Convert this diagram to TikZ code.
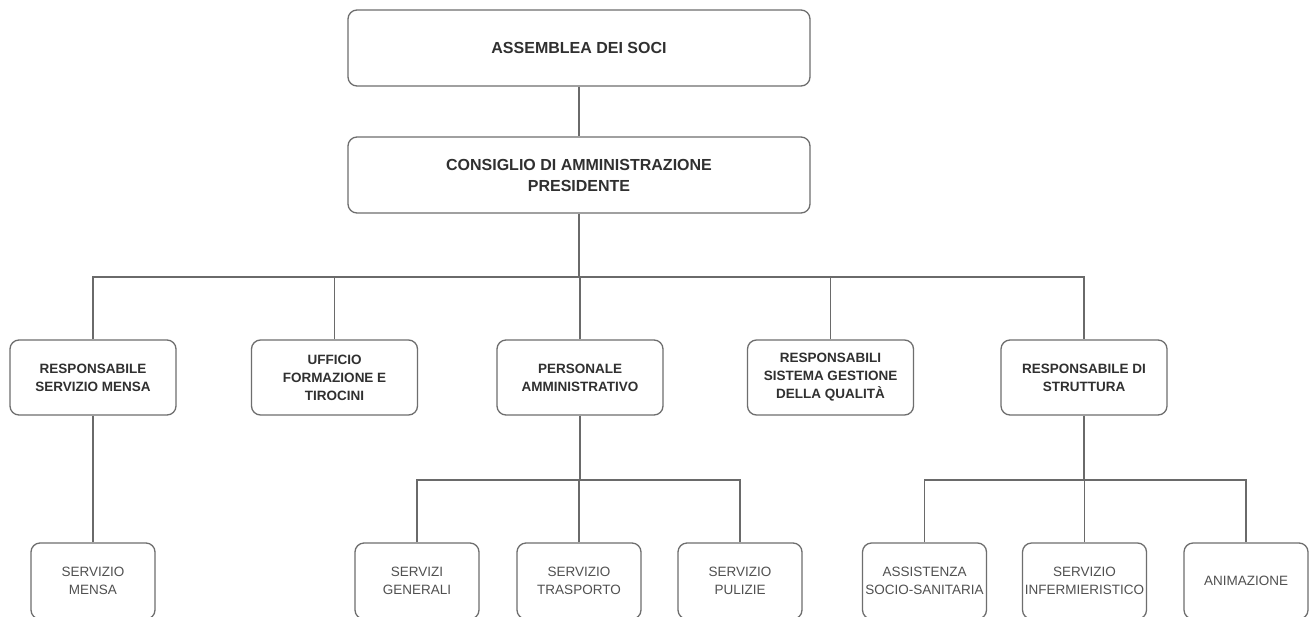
\documentclass[tikz,border=0pt]{standalone}
\usepackage{fontspec}
\setmainfont{Liberation Sans}
\begin{document}
\begin{tikzpicture}[x=1pt,y=-1pt,
  box/.style={draw=boxgray,line width=1.3pt,rounded corners=9pt,fill=white,align=center,inner sep=0pt},
  topbox/.style={box,minimum width=462pt,minimum height=76pt,font=\fontsize{16}{21}\selectfont\bfseries,text=txtdark},
  midbox/.style={box,minimum width=166pt,minimum height=75pt,font=\fontsize{13.5}{18}\selectfont\bfseries,text=txtdark},
  lowbox/.style={box,minimum width=124pt,minimum height=76pt,font=\fontsize{13.5}{18}\selectfont,text=txtlight},
  conn/.style={draw=linegray,line width=1.4pt}]
\definecolor{boxgray}{HTML}{6E6E6E}
\definecolor{linegray}{HTML}{6A6A6A}
\definecolor{txtdark}{HTML}{303030}
\definecolor{txtlight}{HTML}{505050}
\clip (0,0) rectangle (1311,616);
\fill[white] (0,0) rectangle (1311,616);

% level 0 / 1
\node[topbox] (ass) at (579,48) {ASSEMBLEA DEI SOCI};
\node[topbox] (cda) at (579,175) {CONSIGLIO DI AMMINISTRAZIONE\\PRESIDENTE};

% level 2
\node[midbox] (r1) at (93,377.5) {RESPONSABILE\\SERVIZIO MENSA};
\node[midbox] (r2) at (334.5,377.5) {UFFICIO\\FORMAZIONE E\\TIROCINI};
\node[midbox] (r3) at (580,377.5) {PERSONALE\\AMMINISTRATIVO};
\node[midbox] (r4) at (830.5,377.5) {RESPONSABILI\\SISTEMA GESTIONE\\DELLA QUALITÀ};
\node[midbox] (r5) at (1084,377.5) {RESPONSABILE DI\\STRUTTURA};

% level 3
\node[lowbox] (m1) at (93,581) {SERVIZIO\\MENSA};
\node[lowbox] (p1) at (417,581) {SERVIZI\\GENERALI};
\node[lowbox] (p2) at (579,581) {SERVIZIO\\TRASPORTO};
\node[lowbox] (p3) at (740,581) {SERVIZIO\\PULIZIE};
\node[lowbox] (s1) at (924.5,581) {ASSISTENZA\\SOCIO-SANITARIA};
\node[lowbox] (s2) at (1084.5,581) {SERVIZIO\\INFERMIERISTICO};
\node[lowbox] (s3) at (1246,581) {ANIMAZIONE};

% bus coordinates
\coordinate (b0) at (579,277);
\coordinate (bp) at (580,480);
\coordinate (bs) at (1084,480);

% connectors
\draw[conn] (ass.south) -- (cda.north);
\draw[conn] (cda.south) -- (b0);
\draw[conn] (r1.north) |- (b0) -| (r5.north);
\draw[conn] (r2.north) -- (r2.north |- b0);
\draw[conn] (r3.north) -- (r3.north |- b0);
\draw[conn] (r4.north) -- (r4.north |- b0);

\draw[conn] (r1.south) -- (m1.north);

\draw[conn] (r3.south) -- (bp);
\draw[conn] (p1.north) |- (bp) -| (p3.north);
\draw[conn] (p2.north) -- (p2.north |- bp);

\draw[conn] (r5.south) -- (bs);
\draw[conn] (s1.north) |- (bs) -| (s3.north);
\draw[conn] (s2.north) -- (s2.north |- bs);
\end{tikzpicture}
\end{document}
